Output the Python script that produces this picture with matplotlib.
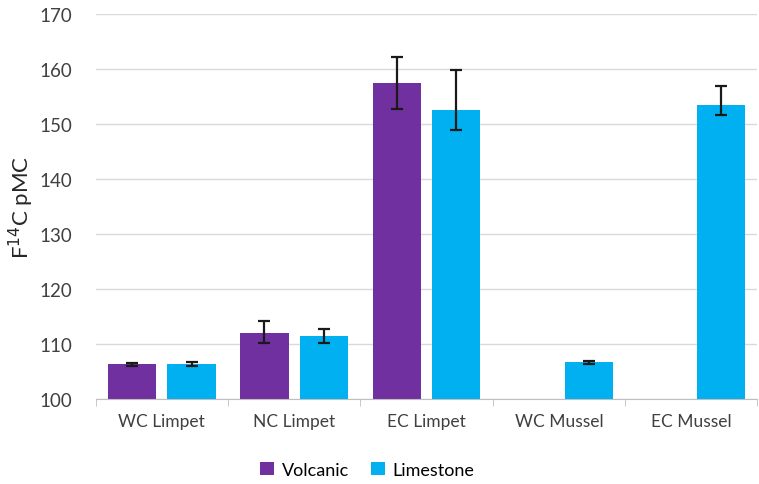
import numpy as np
import matplotlib.pyplot as plt

categories = ['WC Limpet', 'NC Limpet', 'EC Limpet', 'WC Mussel', 'EC Mussel']
volcanic = [106.3, 112.1, 157.5, np.nan, np.nan]
volcanic_err_lo = [0.3, 1.9, 4.7, np.nan, np.nan]
volcanic_err_hi = [0.3, 2.1, 4.7, np.nan, np.nan]
limestone = [106.4, 111.4, 152.6, 106.7, 153.5]
limestone_err_lo = [0.4, 1.2, 3.7, 0.3, 1.8]
limestone_err_hi = [0.4, 1.4, 7.3, 0.3, 3.5]

plt.rcParams['font.family'] = ['Lato', 'DejaVu Sans']

fig = plt.figure(figsize=(7.59, 4.85), dpi=100)
ax = fig.add_axes([0.126, 0.175, 0.872, 0.794])

x = np.arange(len(categories))
w = 0.365
off = 0.225

ax.bar(x - off, volcanic, w, color='#7030A0', label='Volcanic', zorder=2)
ax.bar(x + off, limestone, w, color='#00B0F0', label='Limestone', zorder=2)
ax.errorbar(x - off, volcanic, yerr=[volcanic_err_lo, volcanic_err_hi], fmt='none',
            ecolor='#1a1a1a', elinewidth=1.6, capsize=4.5, capthick=1.6, zorder=3)
ax.errorbar(x + off, limestone, yerr=[limestone_err_lo, limestone_err_hi], fmt='none',
            ecolor='#1a1a1a', elinewidth=1.6, capsize=4.5, capthick=1.6, zorder=3)

ax.set_ylim(100, 170)
ax.set_yticks(np.arange(100, 171, 10))
ax.set_xlim(-0.5, len(categories) - 0.5)
ax.set_xticks(x)
ax.set_xticklabels(categories, fontsize=12.5, color='#404040')
ax.set_xticks(np.arange(-0.5, len(categories) + 0.5, 1), minor=True)
ax.tick_params(axis='x', which='major', length=0, pad=10)
ax.tick_params(axis='x', which='minor', length=5, color='#BFBFBF')
ax.tick_params(axis='y', length=0, labelsize=13.5, labelcolor='#404040', pad=17)
ax.grid(axis='y', color='#D9D9D9', linewidth=1, zorder=0)
ax.set_axisbelow(True)
for s in ['top', 'right', 'left']:
    ax.spines[s].set_visible(False)
ax.spines['bottom'].set_color('#BFBFBF')

ax.set_ylabel('F$^{14}$C pMC', fontsize=16, color='#262626', labelpad=2)

ax.legend(loc='upper center', bbox_to_anchor=(0.41, -0.12), ncol=2, frameon=False,
          fontsize=13, handlelength=0.8, handleheight=0.8, columnspacing=1.2,
          handletextpad=0.4)

fig.savefig('out.png', dpi=100)
